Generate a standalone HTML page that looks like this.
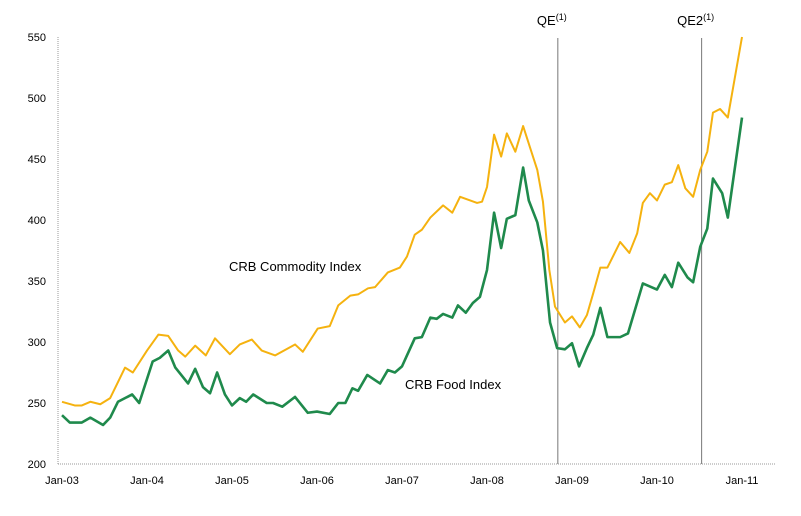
<!DOCTYPE html>
<html><head><meta charset="utf-8"><style>
body{margin:0;background:#fff}
svg{display:block;font-family:"Liberation Sans",Arial,sans-serif}
</style></head><body>
<svg id="chart" width="801" height="516"></svg>
<script>
const yTicks=[200,250,300,350,400,450,500,550];
const xLabels=["Jan-03","Jan-04","Jan-05","Jan-06","Jan-07","Jan-08","Jan-09","Jan-10","Jan-11"];
const commodityMonths=[0,1.8,2.8,4,5.4,6.8,8.9,10,12,13.6,15,16.4,17.4,18.8,20.3,21.6,23.7,25.1,26.8,28.2,30.1,32.9,34,36.1,37.8,39,40.7,41.8,43.2,44.2,46,47.7,48.7,49.8,50.8,52,53.8,55.1,56.2,58.6,59.3,60,61,62,62.8,64,65.1,66.1,67.1,67.9,68.8,69.6,71,72,73.1,74.1,75,76,77,78.8,80.1,81.2,82,83,84,85.1,86.1,87,88,89.1,90.1,91.1,91.9,92.9,94,96];
const commodityValues=[251,248,248,251,249,254,279,275,293,306,305,293,288,297,289,303,290,298,302,293,289,298,292,311,313,330,338,339,344,345,357,361,370,388,392,402,412,406,419,414,415,427,470,452,471,456,477,459,441,415,359,329,316,321,312,322,340,361,361,382,373,389,414,422,416,429,431,445,426,419,441,456,488,491,484,550];
const foodMonths=[0,1.1,2.8,4,5.8,6.8,7.9,9.9,10.9,12.8,13.8,15,16,17.8,18.8,19.9,20.9,21.9,23,24,25.1,26,27,28.9,29.8,31.1,32.9,34.7,36,37.8,39,40,41,41.8,43.1,44.9,46,47,48,48.7,49.8,50.8,52,52.9,53.8,55.1,55.9,57,58,59,60,61,62,62.8,64,65.1,65.9,67.1,67.9,68.9,69.9,71,72,73,74.1,75,76,77,78.8,79.9,82,84,85.1,86.1,87,88.3,89.1,90.1,91.1,91.9,93.2,94,96];
const foodValues=[240,234,234,238,232,238,251,257,250,284,287,293,279,266,278,263,258,275,257,248,254,251,257,250,250,247,255,242,243,241,250,250,262,260,273,266,277,275,280,289,303,304,320,319,323,320,330,324,332,337,359,406,377,401,404,443,416,398,375,316,295,294,299,280,295,306,328,304,304,307,348,343,355,345,365,353,349,378,393,434,422,402,484];
const eventMonths=[70,90.3];
const eventLabels=["QE","QE2"];

const NS="http://www.w3.org/2000/svg";
const svg=document.getElementById('chart');
const x0=62,pxPerMonth=85/12,yBase=464,pxPerUnit=61/50;
const xs=m=>x0+m*pxPerMonth;
const ys=v=>yBase-(v-200)*pxPerUnit;
function mk(t,a){const e=document.createElementNS(NS,t);for(const k in a)e.setAttribute(k,a[k]);svg.appendChild(e);return e;}

let e=mk('line',{x1:58,y1:37,x2:58,y2:464,stroke:'#999','stroke-width':1,'stroke-dasharray':'1,1'});


e=mk('line',{x1:58,y1:464,x2:776,y2:464,stroke:'#999','stroke-width':1,'stroke-dasharray':'1,1'});



yTicks.forEach(v=>{
  const t=mk('text',{x:46,y:ys(v)+4,'text-anchor':'end','font-size':11,fill:'#000'});
  t.textContent=v;
  
  
});
xLabels.forEach((l,i)=>{
  const t=mk('text',{x:xs(i*12),y:484,'text-anchor':'middle','font-size':11,fill:'#000'});
  t.textContent=l;
  
  
});
eventMonths.forEach((m,i)=>{
  const l=mk('line',{x1:xs(m),y1:38,x2:xs(m),y2:464,stroke:'#777','stroke-width':1});
  
  
  const t=mk('text',{x:xs(m)-6,y:25,'text-anchor':'middle','font-size':13,fill:'#000'});
  t.innerHTML=eventLabels[i]+'<tspan font-size="9" dy="-5">(1)</tspan>';
  
  
});
function series(ms,vs,color,name){
  const p=mk('polyline',{points:ms.map((m,i)=>xs(m)+','+ys(vs[i])).join(' '),fill:'none',stroke:color,'stroke-width':color=='#f5b20f'?2:2.6,'stroke-linejoin':'round'});
  
  
}
series(commodityMonths,commodityValues,'#f5b20f','commodity-index-line');
series(foodMonths,foodValues,'#1f8a4c','food-index-line');
let t=mk('text',{x:229,y:271,'font-size':13,fill:'#000'});
t.textContent='CRB Commodity Index';


t=mk('text',{x:405,y:389,'font-size':13,fill:'#000'});
t.textContent='CRB Food Index';


</script>
</body></html>
